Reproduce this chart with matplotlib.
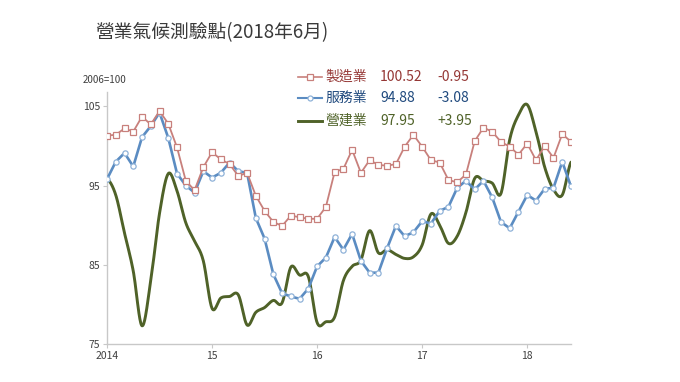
import numpy as np
import matplotlib
matplotlib.use("Agg")
import matplotlib.pyplot as plt
from matplotlib.lines import Line2D

plt.rcParams['font.family'] = ['Noto Sans CJK TC', 'DejaVu Sans']

# ---- data (monthly, Jan 2014 .. Jun 2018) ----
title = "營業氣候測驗點(2018年6月)"
base_label = "2006=100"
series_names = ["製造業", "服務業", "營建業"]
latest_values = ["100.52", "94.88", "97.95"]
latest_changes = ["-0.95", "-3.08", "+3.95"]
year_labels = ["2014", "15", "16", "17", "18"]
y_ticks = [75, 85, 95, 105]

manufacturing = [101.3, 101.4, 102.2, 101.8, 103.7, 102.7, 104.4, 102.8, 99.8, 95.6,
                 94.4, 97.3, 99.2, 98.3, 97.7, 96.2, 96.6, 93.7, 91.8, 90.4,
                 89.9, 91.2, 91.0, 90.8, 90.8, 92.3, 96.7, 97.1, 99.5, 96.6,
                 98.2, 97.6, 97.5, 97.7, 99.9, 101.4, 99.9, 98.2, 97.9, 95.7,
                 95.4, 96.4, 100.6, 102.3, 101.8, 100.5, 99.9, 98.9, 100.3, 98.2,
                 100.0, 98.5, 101.5, 100.52]
services = [95.8, 98.0, 99.1, 97.4, 101.1, 102.5, 104.2, 101.0, 96.5, 95.0,
            94.1, 96.8, 96.0, 96.6, 97.9, 96.8, 96.6, 90.9, 88.3, 83.8,
            81.4, 81.0, 80.7, 82.0, 84.8, 85.9, 88.5, 86.9, 88.9, 85.5,
            84.0, 84.0, 87.1, 89.9, 88.6, 89.1, 90.5, 90.2, 91.8, 92.3,
            94.7, 95.6, 94.5, 95.6, 93.5, 90.4, 89.6, 91.7, 93.8, 93.1,
            94.6, 94.7, 98.0, 94.88]
construction = [95.9, 93.8, 89.0, 84.2, 77.3, 83.0, 91.5, 96.5, 94.3, 90.3,
                88.0, 85.5, 79.5, 80.8, 81.0, 81.2, 77.4, 79.0, 79.6, 80.5,
                80.2, 84.7, 83.7, 83.5, 77.7, 77.8, 78.4, 83.0, 84.8, 85.6,
                89.3, 86.5, 86.9, 86.3, 85.8, 86.0, 87.5, 91.4, 90.0, 87.7,
                88.6, 91.6, 95.9, 95.6, 95.3, 94.0, 100.8, 103.9, 105.2, 101.8,
                97.3, 94.5, 93.8, 97.95]


def catmull_rom(y, n=20):
    """Excel-like smoothed line through the monthly points."""
    y = np.asarray(y, float)
    p = np.concatenate([[y[0]], y, [y[-1]]])
    xs, ys = [], []
    for i in range(len(y) - 1):
        p0, p1, p2, p3 = p[i], p[i + 1], p[i + 2], p[i + 3]
        t = np.linspace(0, 1, n, endpoint=False)
        v = 0.5 * ((2 * p1) + (-p0 + p2) * t + (2 * p0 - 5 * p1 + 4 * p2 - p3) * t ** 2
                   + (-p0 + 3 * p1 - 3 * p2 + p3) * t ** 3)
        xs.append(i + t)
        ys.append(v)
    xs.append([len(y) - 1])
    ys.append([y[-1]])
    return np.concatenate(xs), np.concatenate(ys)


months = np.arange(len(manufacturing))

fig = plt.figure(figsize=(6.8, 3.82), dpi=100)
ax = fig.add_axes([107 / 680, 38 / 382, 464 / 680, 252 / 382])

c_man = "#c8807c"
c_ser = "#5b8cc2"
c_con = "#4f6228"

gx, gy = catmull_rom(construction)
ax.plot(gx, gy, color=c_con, lw=2.1, zorder=2, solid_capstyle="round")
ax.plot(months, services, color=c_ser, lw=1.9, marker="o", ms=3.8,
        mfc="white", mec="#8fb2d8", mew=0.9, zorder=3)
ax.plot(months, manufacturing, color=c_man, lw=1.3, marker="s", ms=4.2,
        mfc="white", mec=c_man, mew=0.9, zorder=4)

ax.set_xlim(0, 53)
ax.set_ylim(75, 106.8)
ax.set_yticks(y_ticks)
ax.set_xticks(np.arange(0, 54, 12))
ax.set_xticklabels(year_labels)
for s in ["top", "right"]:
    ax.spines[s].set_visible(False)
for s in ["left", "bottom"]:
    ax.spines[s].set_color("#c8c8c8")
    ax.spines[s].set_linewidth(1.0)
ax.tick_params(axis="both", length=3, color="#c8c8c8", labelsize=7.5,
               labelcolor="#404040", pad=2)

fig.text(95 / 680, 1 - 33 / 382, title, fontsize=13.5, color="#3a3a3a",
         va="center", ha="left", fontweight="light")
fig.text(83 / 680, 1 - 80 / 382, base_label, fontsize=7, color="#404040",
         va="center", ha="left")

# custom legend with latest values
rows_y = [77, 98, 121]
text_colors = ["#953735", "#1f497d", "#4f6228"]
styles = [dict(color=c_man, lw=1.2, marker="s", ms=4.0, mfc="white", mec=c_man, mew=0.9),
          dict(color=c_ser, lw=1.5, marker="o", ms=3.6, mfc="white", mec="#8fb2d8", mew=0.9),
          dict(color=c_con, lw=2.1)]
for i in range(3):
    yf = 1 - rows_y[i] / 382
    ln = Line2D([298 / 680, 322 / 680], [yf, yf], transform=fig.transFigure,
                markevery=[], **styles[i])
    fig.add_artist(ln)
    if "marker" in styles[i]:
        mk = Line2D([310 / 680], [yf], transform=fig.transFigure, ls="none",
                    **{k: v for k, v in styles[i].items() if k not in ("lw",)})
        fig.add_artist(mk)
    fig.text(325 / 680, yf, series_names[i], fontsize=10, color=text_colors[i],
             va="center", ha="left")
    fig.text(380 / 680, yf, latest_values[i], fontsize=10, color=text_colors[i],
             va="center", ha="left")
    fig.text(437 / 680, yf, latest_changes[i], fontsize=10, color=text_colors[i],
             va="center", ha="left")

fig.savefig("out.png", dpi=100, facecolor="white")
